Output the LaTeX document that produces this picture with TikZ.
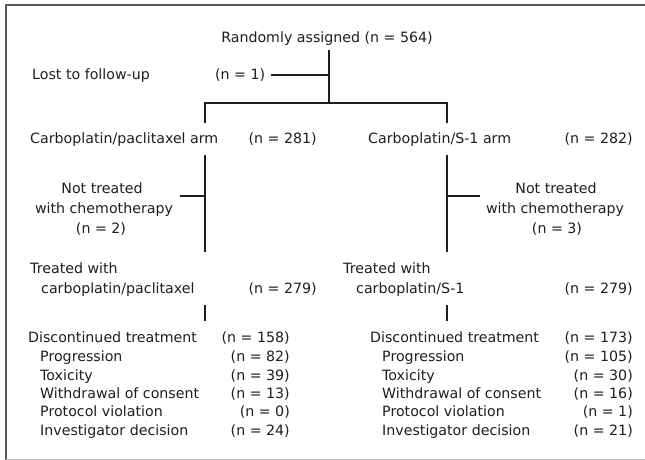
\documentclass[tikz,border=0pt]{standalone}
\usepackage{fontspec}
\setmainfont{DejaVu Sans}
\definecolor{ink}{HTML}{1E1E1E}
\definecolor{framec}{HTML}{5A5A5A}
\begin{document}
\begin{tikzpicture}[x=1pt,y=-1pt,
  txt/.style={inner sep=0pt,font=\fontsize{14.2}{19.5}\selectfont,text=ink},
  lft/.style={txt,anchor=base west},
  rgt/.style={txt,anchor=base east},
  mid/.style={txt,anchor=base},
  conn/.style={draw=ink,line width=2.3pt},
  frm/.style={draw=framec,line width=1.8pt}]
\useasboundingbox (0,0) rectangle (645,460);
% frame
\coordinate (f1) at (6,5);
\coordinate (f2) at (645,5);
\coordinate (f3) at (6,460);
\draw[frm] (f2) -- (f1) -- (f3);
\draw[draw=framec!40,line width=1pt] (6,459) -- (645,459);

% top
\node[mid] (rand) at (327,43) {Randomly assigned (n = 564)};
\node[lft] (lost) at (32,80) {Lost to follow-up};
\node[lft] (lostn) at (215,80) {(n = 1)};
\coordinate (top) at (329,50);
\coordinate (lostj) at (329,75);
\coordinate (split) at (329,103);
\coordinate (sl) at (205,103);
\coordinate (sr) at (447,103);
\coordinate (slb) at (205,123);
\coordinate (srb) at (447,123);
\draw[conn] (top) -- (split);
\draw[conn] (lostn.east |- lostj) ++(6,0) -- (lostj);
\draw[conn,line cap=rect] (sl) -- (sr);
\draw[conn] (sl) -- (slb);
\draw[conn] (sr) -- (srb);

% arms
\node[lft] (armA) at (30,143) {Carboplatin/paclitaxel arm};
\node[rgt] (armAn) at (317,143) {(n = 281)};
\node[lft] (armB) at (368,143) {Carboplatin/S-1 arm};
\node[rgt] (armBn) at (633,143) {(n = 282)};

% not treated
\coordinate (la) at (205,155);
\coordinate (lb) at (205,252);
\coordinate (ra) at (447,155);
\coordinate (rb) at (447,252);
\coordinate (lt) at (205,196);
\coordinate (rt) at (447,196);
\coordinate (lte) at (180,196);
\coordinate (rte) at (480,196);
\draw[conn] (la) -- (lb);
\draw[conn] (ra) -- (rb);
\draw[conn] (lt) -- (lte);
\draw[conn] (rt) -- (rte);
\node[mid] (ntA1) at (102,193) {Not treated};
\node[mid] (ntA2) at (104,213) {with chemotherapy};
\node[mid] (ntA3) at (101,233) {(n = 2)};
\node[mid] (ntB1) at (556,193) {Not treated};
\node[mid] (ntB2) at (555,213) {with chemotherapy};
\node[mid] (ntB3) at (557,233) {(n = 3)};

% treated
\node[lft] (trA1) at (30,273) {Treated with};
\node[lft] (trA2) at (41,293) {carboplatin/paclitaxel};
\node[rgt] (trAn) at (317,293) {(n = 279)};
\node[lft] (trB1) at (343,273) {Treated with};
\node[lft] (trB2) at (356,293) {carboplatin/S-1};
\node[rgt] (trBn) at (633,293) {(n = 279)};

\coordinate (lsa) at (205,305);
\coordinate (lsb) at (205,321);
\coordinate (rsa) at (447,305);
\coordinate (rsb) at (447,321);
\draw[conn] (lsa) -- (lsb);
\draw[conn] (rsa) -- (rsb);

% discontinued left
\node[lft] (dA) at (28,342) {Discontinued treatment};
\node[rgt] (dAn) at (290,342) {(n = 158)};
\node[lft] (dA1) at (40,361) {Progression};
\node[rgt] (dA1n) at (290,361) {(n = 82)};
\node[lft] (dA2) at (40,380) {Toxicity};
\node[rgt] (dA2n) at (290,380) {(n = 39)};
\node[lft] (dA3) at (40,398) {Withdrawal of consent};
\node[rgt] (dA3n) at (290,398) {(n = 13)};
\node[lft] (dA4) at (40,416) {Protocol violation};
\node[rgt] (dA4n) at (290,416) {(n = 0)};
\node[lft] (dA5) at (40,435) {Investigator decision};
\node[rgt] (dA5n) at (290,435) {(n = 24)};

% discontinued right
\node[lft] (dB) at (370,342) {Discontinued treatment};
\node[rgt] (dBn) at (633,342) {(n = 173)};
\node[lft] (dB1) at (382,361) {Progression};
\node[rgt] (dB1n) at (633,361) {(n = 105)};
\node[lft] (dB2) at (382,380) {Toxicity};
\node[rgt] (dB2n) at (633,380) {(n = 30)};
\node[lft] (dB3) at (382,398) {Withdrawal of consent};
\node[rgt] (dB3n) at (633,398) {(n = 16)};
\node[lft] (dB4) at (382,416) {Protocol violation};
\node[rgt] (dB4n) at (633,416) {(n = 1)};
\node[lft] (dB5) at (382,435) {Investigator decision};
\node[rgt] (dB5n) at (633,435) {(n = 21)};
\end{tikzpicture}
\end{document}
